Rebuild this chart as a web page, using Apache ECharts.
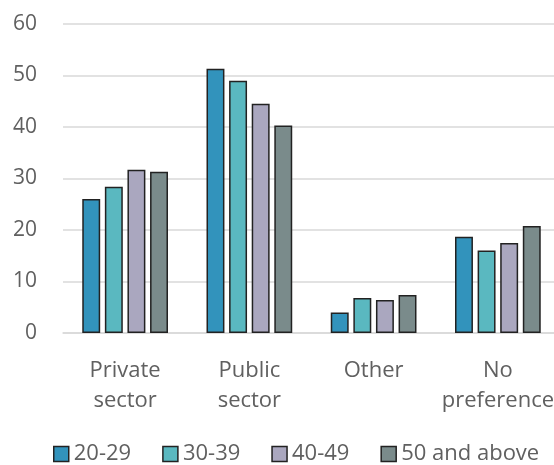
<!DOCTYPE html>
<html>
<head>
<meta charset="utf-8">
<script src="https://cdn.jsdelivr.net/npm/echarts@6/dist/echarts.min.js"></script>
<style>
  html, body { margin: 0; padding: 0; background: #ffffff; }
  #chart { width: 554px; height: 465px; }
</style>
</head>
<body>
<div id="chart"></div>
<script>
// Sector preference by age group (%)
const categories = ['Private\nsector', 'Public\nsector', 'Other', 'No\npreference'];
const ageGroups = ['20-29', '30-39', '40-49', '50 and above'];
const age20to29 = [26.0, 51.3, 4.0, 18.7];
const age30to39 = [28.4, 49.0, 6.8, 16.0];
const age40to49 = [31.7, 44.5, 6.4, 17.5];
const age50plus = [31.3, 40.3, 7.4, 20.8];
const yTicks = [0, 10, 20, 30, 40, 50, 60];

const seriesValues = [age20to29, age30to39, age40to49, age50plus];
const colors = ['#3293bc', '#5ab8c0', '#aaa7bf', '#7a8b8b'];
const fontFamily = '"Open Sans", "Noto Sans", sans-serif';
const textColor = '#606060';

const chart = echarts.init(document.getElementById('chart'));
chart.setOption({
  animation: false,
  color: colors,
  // plot area runs slightly past the right edge, so the last label is cut off
  grid: {
    left: 63, width: 497, top: 24, height: 309,
    containLabel: false, outerBoundsMode: 'none'
  },
  legend: {
    data: ageGroups,
    top: 443,
    left: 53,
    padding: 0,
    itemWidth: 15,
    itemHeight: 15,
    itemGap: 31,
    icon: 'rect',
    textStyle: { fontFamily, fontSize: 22, color: textColor },
    itemStyle: { borderColor: '#222222', borderWidth: 1.5 }
  },
  xAxis: {
    type: 'category',
    data: categories,
    axisLine: { show: true, lineStyle: { color: '#d9d9d9', width: 1.5 } },
    axisTick: { show: false },
    axisLabel: {
      interval: 0, hideOverlap: false,
      fontFamily, fontSize: 22, color: textColor, lineHeight: 30, margin: 23
    }
  },
  yAxis: {
    type: 'value',
    min: yTicks[0],
    max: yTicks[yTicks.length - 1],
    interval: 10,
    axisLine: { show: false },
    axisTick: { show: false },
    splitLine: { lineStyle: { color: '#d9d9d9', width: 1.5 } },
    axisLabel: { fontFamily, fontSize: 21, color: textColor, margin: 26 }
  },
  series: ageGroups.map((name, i) => ({
    name,
    type: 'bar',
    data: seriesValues[i],
    barGap: '26%',
    barCategoryGap: '31%',
    itemStyle: { borderColor: '#222222', borderWidth: 1.5 }
  }))
});
</script>
</body>
</html>
